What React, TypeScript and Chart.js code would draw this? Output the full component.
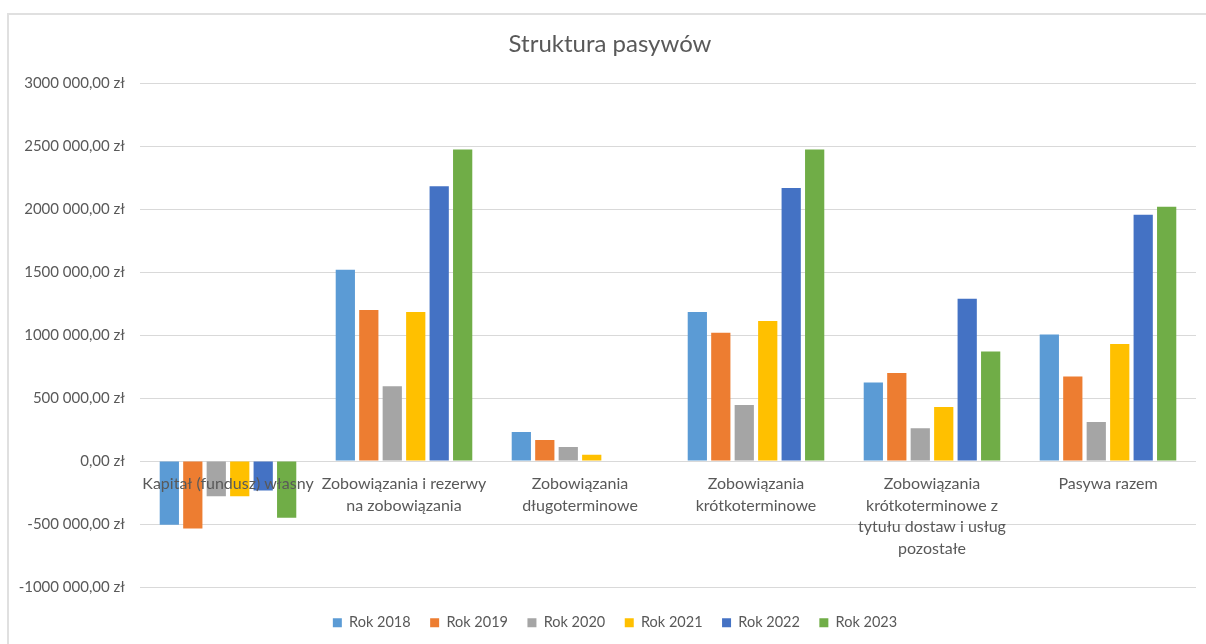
import React, { useEffect, useRef } from 'react';
import { Chart, registerables } from 'chart.js';

Chart.register(...registerables);

const categories: (string | string[])[] = [
  'Kapitał (fundusz) własny',
  ['Zobowiązania i rezerwy', 'na zobowiązania'],
  ['Zobowiązania', 'długoterminowe'],
  ['Zobowiązania', 'krótkoterminowe'],
  ['Zobowiązania', 'krótkoterminowe z', 'tytułu dostaw i usług', 'pozostałe'],
  'Pasywa razem',
];

const seriesNames = ['Rok 2018', 'Rok 2019', 'Rok 2020', 'Rok 2021', 'Rok 2022', 'Rok 2023'];
const seriesColors = ['#5B9BD5', '#ED7D31', '#A5A5A5', '#FFC000', '#4472C4', '#70AD47'];

const rok2018 = [-505000, 1520000, 232000, 1184000, 624000, 1005000];
const rok2019 = [-535000, 1200000, 168000, 1020000, 700000, 672000];
const rok2020 = [-280000, 594000, 112000, 445000, 260000, 310000];
const rok2021 = [-280000, 1184000, 50000, 1112000, 430000, 930000];
const rok2022 = [-234000, 2184000, 0, 2170000, 1290000, 1957000];
const rok2023 = [-450000, 2475000, 0, 2475000, 870000, 2020000];

const seriesValues = [rok2018, rok2019, rok2020, rok2021, rok2022, rok2023];

const yTickValues = [-1000000, -500000, 0, 500000, 1000000, 1500000, 2000000, 2500000, 3000000];
const yTickLabels = [
  '-1000 000,00 zł',
  '-500 000,00 zł',
  '0,00 zł',
  '500 000,00 zł',
  '1000 000,00 zł',
  '1500 000,00 zł',
  '2000 000,00 zł',
  '2500 000,00 zł',
  '3000 000,00 zł',
];

const FONT = 'Lato, "Noto Sans", sans-serif';
const TEXT = '#595959';
const GRID = '#d9d9d9';

const shiftBoxes = {
  id: 'shiftBoxes',
  afterLayout(chart: any) {
    const lg = chart.legend;
    if (lg) {
      lg.left += 13;
      lg.right += 13;
    }
    const t = chart.titleBlock;
    if (t) {
      t.left += 8;
      t.right += 8;
    }
  },
};

export default function App() {
  const ref = useRef<HTMLCanvasElement>(null);

  useEffect(() => {
    if (!ref.current) return;
    const chart = new Chart(ref.current, {
      type: 'bar',
      data: {
        labels: categories,
        datasets: seriesValues.map((d, i) => ({
          label: seriesNames[i],
          data: d,
          backgroundColor: seriesColors[i],
          borderWidth: 0,
          barPercentage: 0.82,
          categoryPercentage: 0.8,
        })),
      },
      options: {
        animation: false,
        responsive: false,
        maintainAspectRatio: false,
        layout: { padding: { left: 0, right: 10, top: 0, bottom: 9 } },
        plugins: {
          title: {
            display: true,
            text: 'Struktura pasywów',
            color: TEXT,
            font: { family: FONT, size: 24, weight: 'normal', lineHeight: 1.2 },
            padding: { top: 15.6, bottom: 25 },
          },
          legend: {
            position: 'bottom',
            labels: {
              boxWidth: 9,
              boxHeight: 9,
              padding: 19.5,
              color: TEXT,
              font: { family: FONT, size: 14.5 },
            },
          },
          tooltip: { enabled: false },
        },
        scales: {
          x: {
            type: 'category',
            position: { y: 0 } as any,
            grid: { display: false, drawTicks: false },
            border: { display: false },
            ticks: {
              color: TEXT,
              font: { family: FONT, size: 16, lineHeight: 1.35 },
              padding: 12,
              maxRotation: 0,
              minRotation: 0,
              autoSkip: false,
              z: 1,
            },
          },
          x2: {
            type: 'category',
            position: 'bottom',
            labels: categories as any,
            grid: { display: false, drawTicks: false },
            border: { display: false },
            ticks: { display: false },
            afterFit: (s: any) => {
              s.height = 9;
            },
          },
          y: {
            min: -1000000,
            max: 3000000,
            ticks: {
              stepSize: 500000,
              padding: 15,
              color: TEXT,
              font: { family: FONT, size: 15 },
              callback: (v: any) => {
                const idx = yTickValues.indexOf(Number(v));
                return idx >= 0 ? yTickLabels[idx] : '';
              },
            },
            grid: { color: GRID, drawTicks: false, lineWidth: 1 },
            border: { display: false },
            afterFit: (s: any) => {
              s.width = 132;
            },
          },
        },
      },
      plugins: [shiftBoxes],
    });
    return () => chart.destroy();
  }, []);

  return (
    <div
      style={{
        position: 'fixed',
        left: 0,
        top: 0,
        width: 1206,
        height: 644,
        overflow: 'hidden',
        background: '#ffffff',
      }}
    >
      <div
        style={{
          position: 'absolute',
          left: 7,
          top: 13,
          width: 1300,
          height: 700,
          border: '2px solid #e0e0e0',
        }}
      />
      <canvas
        ref={ref}
        width={1198}
        height={635}
        style={{ position: 'absolute', left: 8, top: 14, width: 1198, height: 635 }}
      />
    </div>
  );
}
